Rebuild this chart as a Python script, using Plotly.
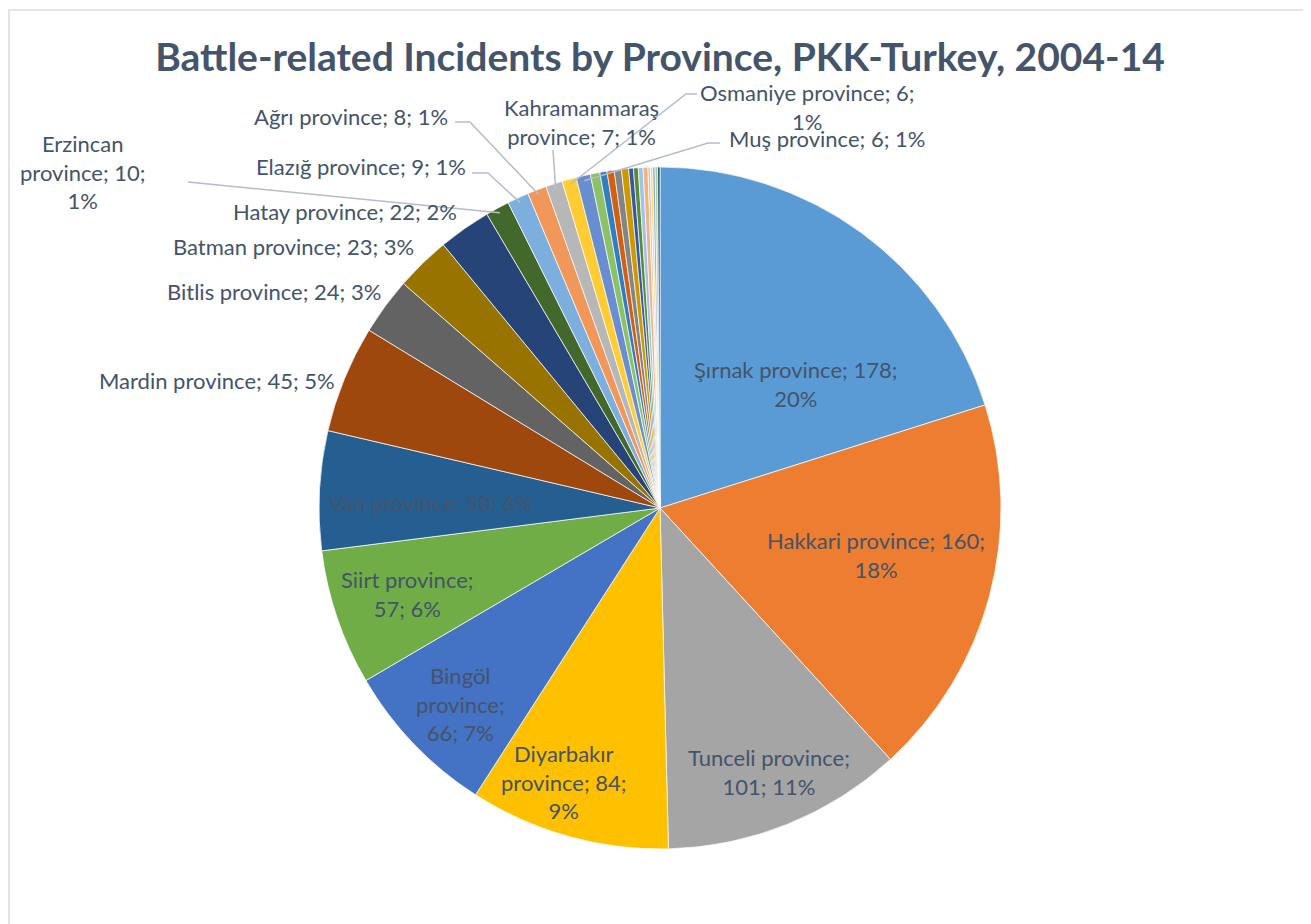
import math
import plotly.graph_objects as go

# ---------------- data ----------------
provinces = [
    "Şırnak", "Hakkari", "Tunceli", "Diyarbakır", "Bingöl", "Siirt", "Van",
    "Mardin", "Bitlis", "Batman", "Hatay", "Erzincan", "Elazığ", "Ağrı",
    "Kahramanmaraş", "Osmaniye", "Muş",
    "Erzurum", "Tokat", "Sivas", "Kars", "Adana", "Gaziantep", "Şanlıurfa",
    "Ardahan", "Iğdır", "Malatya", "Kayseri", "Mersin", "Adıyaman", "Bayburt",
]
incidents = [
    178, 160, 101, 84, 66, 57, 50,
    45, 24, 23, 22, 10, 9, 8,
    7, 6, 6,
    4, 3, 3, 3, 3, 2, 2,
    2, 2, 1, 1, 1, 1, 1,
]
colors = [
    "#5B9BD5", "#ED7D31", "#A5A5A5", "#FFC000", "#4472C4", "#70AD47", "#255E91",
    "#9E480E", "#636363", "#997300", "#264478", "#43682B", "#7CAFDD", "#F1975A",
    "#B7B7B7", "#FFCD33", "#698ED0", "#8CC168", "#327DC2", "#D26012",
    "#848484", "#CC9A00", "#335AA1", "#5A8A39", "#9DC3E6", "#F4B183",
    "#C9C9C9", "#FFD966", "#8FAADC", "#A9D18E", "#1F4E79",
]
title = "Battle-related Incidents by Province, PKK-Turkey, 2004-14"

# ---------------- layout constants (pixels in the reference picture) ----------------
W, H = 1311, 924
OFF = 8                      # page body margin
CX, CY, R = 660, 508, 341
TEXT_COLOR = "#44546A"
FONT = "Lato"
FS = 22

def px(x):
    return (x - OFF) / W

def py(y):
    return 1 - (y - OFF) / H

total = sum(incidents)
pct = [round(v / total * 100) for v in incidents]

# mid angles (deg clockwise from 12 o'clock)
mids = []
acc = 0
for v in incidents:
    mids.append((acc + v / 2) / total * 360)
    acc += v

def polar(i, frac, dang=0.0):
    a = math.radians(mids[i] + dang)
    return CX + frac * R * math.sin(a), CY - frac * R * math.cos(a)

def lbl(i, breaks):
    n, v, p = provinces[i] + " province", str(incidents[i]), f"{pct[i]}%"
    parts = [n + ";", v + ";", p]
    out = ""
    for k, part in enumerate(parts):
        if k > 0:
            out += "<br>" if (k - 1) in breaks else " "
        out += part
    return out

fig = go.Figure(go.Pie(
    labels=provinces, values=incidents, sort=False, direction="clockwise",
    rotation=0, textinfo="none", hoverinfo="label+value+percent",
    marker=dict(colors=colors, line=dict(color="rgba(255,255,255,0.7)", width=1)),
    domain=dict(x=[px(CX - R), px(CX + R)], y=[py(CY + R), py(CY - R)]),
    showlegend=False,
))

annotations = []
shapes = []

# inside labels: (index, radial fraction, angle offset from slice middle, text)
inside = [
    (0, 0.540, 11.4, lbl(0, [1])),
    (1, 0.649, -2.8, lbl(1, [1])),
    (2, 0.838, -0.5, lbl(2, [0])),
    (3, 0.852, 3.7, f"{provinces[3]}<br>province; {incidents[3]};<br>{pct[3]}%"),
    (4, 0.821, -0.6, f"{provinces[4]}<br>province;<br>{incidents[4]}; {pct[4]}%"),
    (5, 0.782, 0.0, lbl(5, [0])),
    (6, 0.672, -1.65, lbl(6, [])),
]
for i, frac, dang, text in inside:
    x, y = polar(i, frac, dang)
    annotations.append(dict(x=px(x), y=py(y), xref="paper", yref="paper", text=text,
                            showarrow=False, align="center", xanchor="center", yanchor="middle",
                            font=dict(family=FONT, size=FS, color=TEXT_COLOR)))

# outside labels: (index, anchor x, y, xanchor, text)
outside = [
    (7, 337, 381, "right", lbl(7, [])),
    (8, 383, 292, "right", lbl(8, [])),
    (9, 416, 247, "right", lbl(9, [])),
    (10, 459, 211, "right", lbl(10, [])),
    (11, 83, 172, "center", f"{provinces[11]}<br>province; {incidents[11]};<br>{pct[11]}%"),
    (12, 468, 166, "right", lbl(12, [])),
    (13, 450, 116, "right", lbl(13, [])),
    (14, 581, 122, "center", f"{provinces[14]}<br>province; {incidents[14]}; {pct[14]}%"),
    (15, 807, 107, "center", lbl(15, [1])),
    (16, 727, 138, "left", lbl(16, [])),
]
for i, x, y, xa, text in outside:
    annotations.append(dict(x=px(x), y=py(y), xref="paper", yref="paper", text=text,
                            showarrow=False, align="center", xanchor=xa, yanchor="middle",
                            font=dict(family=FONT, size=FS, color=TEXT_COLOR)))

# leader lines: (index, label-side points)
leaders = [
    (11, [(188, 182)]),
    (12, [(472, 173), (488, 173)]),
    (13, [(455, 122), (470, 122)]),
    (14, [(553, 150)]),
    (15, [(697, 94), (686, 94)]),
    (16, [(720, 143), (708, 143)]),
]
for i, pts in leaders:
    ex, ey = polar(i, 0.985)
    allp = pts + [(ex, ey)]
    path = "M " + " L ".join(f"{px(a)},{py(b)}" for a, b in allp)
    shapes.append(dict(type="path", path=path, xref="paper", yref="paper",
                       line=dict(color="#B4BDC9", width=1.5)))

# chart border
shapes.append(dict(type="rect", xref="paper", yref="paper",
                   x0=px(9), x1=px(W + 40), y0=py(H + 40), y1=py(10),
                   line=dict(color="#D9DCE3", width=1.5), layer="below"))

fig.update_layout(
    width=W, height=H,
    margin=dict(l=0, r=0, t=0, b=0),
    paper_bgcolor="white", plot_bgcolor="white",
    title=dict(text=f"<b>{title}</b>", x=px(660), xanchor="center", y=py(57), yanchor="middle",
               font=dict(family=FONT, size=39, color=TEXT_COLOR)),
    annotations=annotations, shapes=shapes,
)

fig.write_html("out.html")
